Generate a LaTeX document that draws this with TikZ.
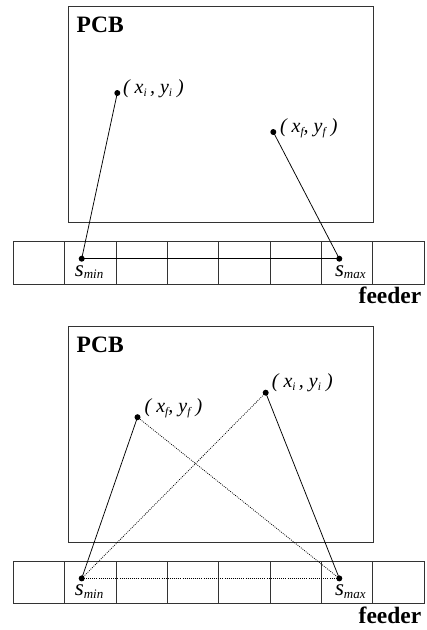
\documentclass[tikz,border=0pt]{standalone}
\usepackage{fontspec}
\setmainfont{Liberation Serif}
\usepackage{xcolor}
\usepackage{tikz}
\usetikzlibrary{calc}
\definecolor{Frame}{HTML}{333333}
\newcommand{\lowidx}[1]{\raisebox{-3pt}{\fontsize{11.5}{11.5}\selectfont #1}}
\newcommand{\pinidx}[1]{\raisebox{-2.5pt}{\fontsize{13}{13}\selectfont #1}}
\tikzset{
  board/.style={draw=Frame, line width=.8pt},
  cell/.style={draw=Frame, line width=.8pt, minimum width=51.35pt,
    minimum height=42.5pt, inner sep=0pt, anchor=north west},
  pin/.style={circle, fill=black, inner sep=0pt, minimum size=6pt},
  move/.style={line width=.75pt},
  ghost/.style={line width=.75pt, dash pattern=on .9pt off 1.2pt},
  title/.style={font=\fontsize{23.5}{23.5}\selectfont\bfseries, inner sep=0pt, anchor=base west},
  coord/.style={font=\fontsize{20}{20}\selectfont\itshape, inner sep=0pt, anchor=base west},
  slot/.style={font=\fontsize{23}{23}\selectfont\itshape, inner sep=0pt, anchor=base west}
}
\begin{document}
\begin{tikzpicture}[x=1pt,y=-1pt]
  \useasboundingbox (0,0) rectangle (427,630);
  % first case: start near s_min, end near s_max
  \begin{scope}
    \node[board, minimum width=305pt, minimum height=216pt, anchor=north west] (pcbA) at (68,6) {};
    \node[title] (pcbAname) at (76.5,32.5) {PCB};
    \foreach \k in {0,...,7}
      \node[cell] (feedA\k) at (13+51.35*\k,241) {};
    \node[title, anchor=base east] (feedAname) at (421.5,303.5) {feeder};
    \node[pin] (sminA) at (81.7,258.7) {};
    \node[pin] (smaxA) at (339.3,258.7) {};
    \node[pin] (startA) at (117.3,93) {};
    \node[pin] (endA) at (273.3,132) {};
    \node[slot] at ($(sminA)+(-7,17.5)$) {s\pinidx{min}};
    \node[slot] at ($(smaxA)+(-4.5,17.5)$) {s\pinidx{max}};
    \node[coord] at ($(startA)+(5.5,0)$) {( x\lowidx{i}\,, y\lowidx{i} )};
    \node[coord] at ($(endA)+(6.5,0)$) {( x\lowidx{f}, y\lowidx{f} )};
    \draw[move] (sminA.center) -- (startA.center);
    \draw[move] (smaxA.center) -- (endA.center);
    \draw[move] (sminA.center) -- (smaxA.center);
  \end{scope}
  % second case: start near s_max, end near s_min
  \begin{scope}[yshift=-319.7pt]
    \node[board, minimum width=305pt, minimum height=216pt, anchor=north west] (pcbB) at (68,6) {};
    \node[title] (pcbBname) at (76.5,32.5) {PCB};
    \foreach \k in {0,...,7}
      \node[cell] (feedB\k) at (13+51.35*\k,241) {};
    \node[title, anchor=base east] (feedBname) at (421.5,303.5) {feeder};
    \node[pin] (sminB) at (81.7,258.7) {};
    \node[pin] (smaxB) at (339.3,258.7) {};
    \node[pin] (startB) at (265.7,73) {};
    \node[pin] (endB) at (137.5,97.5) {};
    \node[slot] at ($(sminB)+(-7,17.5)$) {s\pinidx{min}};
    \node[slot] at ($(smaxB)+(-4.5,17.5)$) {s\pinidx{max}};
    \node[coord] at ($(startB)+(6,-5.5)$) {( x\lowidx{i}\,, y\lowidx{i} )};
    \node[coord] at ($(endB)+(7,-5)$) {( x\lowidx{f}, y\lowidx{f} )};
    \draw[move] (sminB.center) -- (endB.center);
    \draw[move] (smaxB.center) -- (startB.center);
    \draw[ghost] (sminB.center) -- (startB.center);
    \draw[ghost] (smaxB.center) -- (endB.center);
    \draw[ghost] (sminB.center) -- (smaxB.center);
  \end{scope}
\end{tikzpicture}
\end{document}
